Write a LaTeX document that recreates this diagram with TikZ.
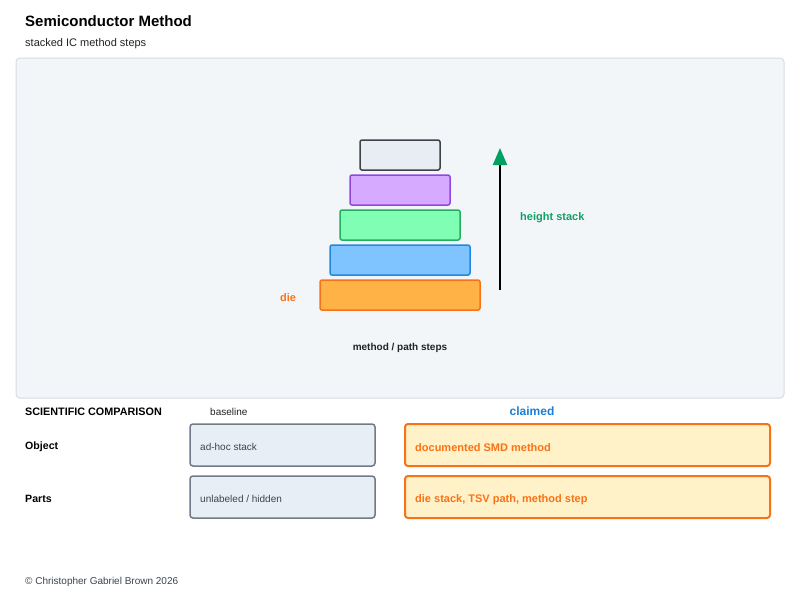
\documentclass[tikz,border=0pt]{standalone}
\usepackage{fontspec}
\setmainfont{Liberation Sans}
\usetikzlibrary{arrows.meta}
\definecolor{panelfill}{HTML}{F3F6F9}
\definecolor{panelline}{HTML}{D5DCE4}
\definecolor{topfill}{HTML}{E8EDF4}
\definecolor{topline}{HTML}{3F4348}
\definecolor{purfill}{HTML}{D6AAFE}
\definecolor{purline}{HTML}{9345E0}
\definecolor{grnfill}{HTML}{80FFB4}
\definecolor{grnline}{HTML}{22B060}
\definecolor{blufill}{HTML}{80C4FF}
\definecolor{bluline}{HTML}{2088E0}
\definecolor{orgfill}{HTML}{FFB347}
\definecolor{orgline}{HTML}{F97316}
\definecolor{arrgreen}{HTML}{00A060}
\definecolor{txtgreen}{HTML}{10A064}
\definecolor{claimblue}{HTML}{1C7ED6}
\definecolor{basefill}{HTML}{E8EEF5}
\definecolor{baseline}{HTML}{707A88}
\definecolor{clfill}{HTML}{FFF1C8}
\definecolor{darktext}{HTML}{222222}
\definecolor{graytext}{HTML}{3A4450}
\tikzset{
  layer/.style={draw, line width=1.5pt, rounded corners=2pt},
  basebox/.style={draw=baseline, fill=basefill, line width=1.5pt, rounded corners=3pt},
  claimbox/.style={draw=orgline, fill=clfill, line width=2pt, rounded corners=3pt},
  lbl/.style={inner sep=0pt, anchor=west, yshift=-1.2pt},
  clbl/.style={inner sep=0pt, yshift=-1.2pt},
}
\begin{document}
\begin{tikzpicture}[x=1pt,y=-1pt]
\useasboundingbox (0,0) rectangle (800,600);
\fill[white] (0,0) rectangle (800,600);
% title
\node[lbl, font=\fontsize{15}{17}\selectfont\bfseries, text=black] (title) at (25,20) {Semiconductor Method};
\node[lbl, font=\fontsize{11}{13}\selectfont, text=darktext] (sub) at (25,42) {stacked IC method steps};
% panel
\draw[draw=panelline, fill=panelfill, line width=1pt, rounded corners=4pt] (16,58) rectangle (784,398);
% layers
\draw[layer, draw=topline, fill=topfill] (360,140) rectangle (440,170);
\draw[layer, draw=purline, fill=purfill] (350,175) rectangle (450,205);
\draw[layer, draw=grnline, fill=grnfill] (340,210) rectangle (460,240);
\draw[layer, draw=bluline, fill=blufill] (330,245) rectangle (470,275);
\draw[layer, draw=orgline, fill=orgfill] (320,280) rectangle (480,310);
% arrow
\coordinate (abot) at (500,290);
\coordinate (atop) at (500,148);
\draw[line width=2pt, black, -{Triangle[length=17pt,width=14pt,color=arrgreen]}] (abot) -- (atop);
\node[lbl, font=\fontsize{11}{13}\selectfont\bfseries, text=txtgreen] (hs) at (520,216) {height stack};
\node[lbl, font=\fontsize{11}{13}\selectfont\bfseries, text=orgline] (die) at (280,296) {die};
\node[clbl, font=\fontsize{10}{12}\selectfont\bfseries, text=darktext] (mp) at (400,347) {method / path steps};
% comparison
\node[lbl, font=\fontsize{10.8}{12}\selectfont\bfseries, text=black] (sc) at (25,411) {SCIENTIFIC COMPARISON};
\node[lbl, font=\fontsize{10}{12}\selectfont, text=darktext] (bl) at (210,411) {baseline};
\node[clbl, font=\fontsize{12}{14}\selectfont\bfseries, text=claimblue] (cl) at (532,410) {claimed};
\node[lbl, font=\fontsize{10.6}{12}\selectfont\bfseries, text=black] (obj) at (25,446) {Object};
\node[lbl, font=\fontsize{10.6}{12}\selectfont\bfseries, text=black] (parts) at (25,498) {Parts};
\draw[basebox] (190,424) rectangle (375,466);
\draw[basebox] (190,476) rectangle (375,518);
\draw[claimbox] (405,424) rectangle (770,466);
\draw[claimbox] (405,476) rectangle (770,518);
\node[lbl, font=\fontsize{10}{12}\selectfont, text=graytext] (b1) at (200,446) {ad-hoc stack};
\node[lbl, font=\fontsize{10}{12}\selectfont, text=graytext] (b2) at (200,498) {unlabeled / hidden};
\node[lbl, font=\fontsize{11}{13}\selectfont\bfseries, text=orgline] (c1) at (415,446) {documented SMD method};
\node[lbl, font=\fontsize{11}{13}\selectfont\bfseries, text=orgline] (c2) at (415,498) {die stack, TSV path, method step};
% footer
\node[lbl, font=\fontsize{10}{12}\selectfont, text=graytext] (foot) at (25,581) {© Christopher Gabriel Brown 2026};
\end{tikzpicture}
\end{document}
